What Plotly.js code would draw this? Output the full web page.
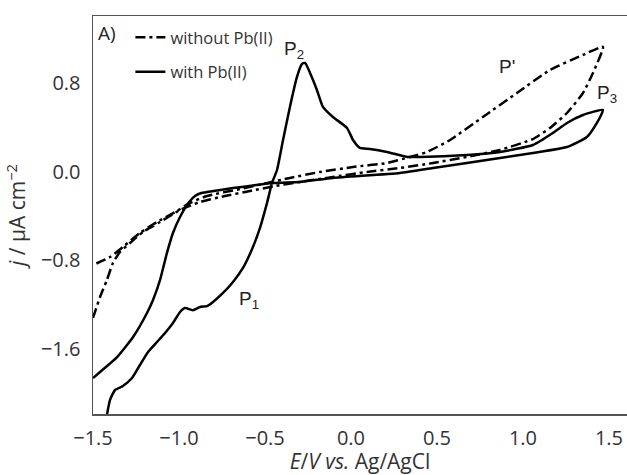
<!DOCTYPE html>
<html>
<head>
<meta charset="utf-8">
<script src="https://cdn.plot.ly/plotly-3.0.1.min.js"></script>
<style>html,body{margin:0;padding:0;background:#fff;}#chart{width:627px;height:475px;}</style>
</head>
<body>
<div id="chart"></div>
<script>
// With Pb(II) (solid) – one continuous CV loop
var withPbE = [-1.425,-1.401,-1.372,-1.326,-1.273,-1.227,-1.180,-1.128,-1.081,-1.035,-0.994,-0.965,-0.919,-0.878,-0.837,-0.802,-0.744,-0.686,-0.628,-0.570,-0.529,-0.488,-0.459,-0.430,-0.395,-0.355,-0.314,-0.285,-0.267,-0.238,-0.198,-0.163,-0.105,-0.023,0.012,0.052,0.110,0.209,0.326,0.401,0.674,0.866,1.058,1.174,1.256,1.349,1.465,1.430,1.372,1.256,1.058,0.866,0.674,0.477,0.285,-0.105,-0.297,-0.453,-0.686,-0.837,-0.870,-0.905,-0.940,-0.994,-1.035,-1.070,-1.110,-1.151,-1.186,-1.267,-1.360,-1.459,-1.500];
var withPbJ = [-2.25,-2.061,-1.971,-1.935,-1.863,-1.745,-1.627,-1.537,-1.456,-1.365,-1.266,-1.230,-1.250,-1.221,-1.212,-1.175,-1.094,-0.995,-0.868,-0.678,-0.506,-0.280,-0.099,0.018,0.289,0.588,0.859,0.976,0.986,0.895,0.741,0.588,0.497,0.398,0.289,0.217,0.208,0.181,0.136,0.136,0.154,0.181,0.244,0.353,0.443,0.515,0.561,0.443,0.316,0.226,0.172,0.127,0.081,0.036,-0.009,-0.054,-0.090,-0.099,-0.145,-0.181,-0.190,-0.215,-0.270,-0.407,-0.552,-0.732,-0.976,-1.157,-1.275,-1.492,-1.673,-1.808,-1.863];

// Without Pb(II) (dash-dot)
var withoutPbE = [-1.500,-1.459,-1.419,-1.384,-1.343,-1.285,-1.209,-1.110,-0.994,-0.878,-0.733,-0.587,-0.442,-0.297,-0.105,0.093,0.285,0.477,0.674,0.866,1.058,1.157,1.256,1.349,1.407,1.465,1.349,1.157,0.965,0.767,0.576,0.442,0.343,0.209,0.012,-0.180,-0.355,-0.512,-0.645,-0.837,-0.936,-1.012,-1.128,-1.227,-1.326,-1.401,-1.500];
var withoutPbJ = [-1.320,-1.130,-0.976,-0.823,-0.723,-0.642,-0.542,-0.452,-0.344,-0.271,-0.217,-0.172,-0.127,-0.090,-0.045,0.000,0.036,0.081,0.136,0.199,0.298,0.398,0.533,0.714,0.895,1.130,1.058,0.922,0.714,0.497,0.289,0.181,0.136,0.081,0.045,0.000,-0.054,-0.108,-0.154,-0.217,-0.280,-0.353,-0.452,-0.552,-0.678,-0.769,-0.841];

var xTicks = [-1.5,-1.0,-0.5,0.0,0.5,1.0,1.5];
var xTickText = ['\u22121.5','\u22121.0','\u22120.5','0.0','0.5','1.0','1.5'];
var yTicks = [-1.6,-0.8,0.0,0.8];
var yTickText = ['\u22121.6','\u22120.8','0.0','0.8'];

var FONT = 'Open Sans, Lato, sans-serif';

var traces = [
  {x: withoutPbE, y: withoutPbJ, mode: 'lines', name: 'without Pb(II)', legendgroup: 'a',
   line: {color: '#000', width: 2.5, dash: '10px,4px,3px,4px', shape: 'spline', smoothing: 0.5}},
  {x: withPbE, y: withPbJ, mode: 'lines', name: 'with Pb(II)', legendgroup: 'b',
   line: {color: '#000', width: 2.5, shape: 'spline', smoothing: 0.5}}
];

var annFont = {family: 'Liberation Sans, Arial, sans-serif', size: 19, color: '#222'};
var layout = {
  width: 627, height: 475,
  margin: {l: 93, r: 0, t: 16, b: 61},
  paper_bgcolor: '#fff', plot_bgcolor: '#fff',
  font: {family: FONT, color: '#333'},
  showlegend: true,
  legend: {x: 0.07, y: 0.99, xanchor: 'left', yanchor: 'top', bgcolor: 'rgba(0,0,0,0)',
           font: {family: FONT, size: 16.5, color: '#333'}, traceorder: 'grouped', tracegroupgap: 10},
  xaxis: {range: [-1.5, 1.605], tickvals: xTicks, ticktext: xTickText, showgrid: false, zeroline: false,
          showline: true, linecolor: '#555', linewidth: 1.5, mirror: true,
          ticks: 'outside', ticklen: 5, tickcolor: 'rgba(0,0,0,0)',
          tickfont: {family: FONT, size: 20, color: '#333'},
          title: {text: '<i>E</i>/<i>V vs.</i> Ag/AgCl', font: {family: FONT, size: 21, color: '#333'}, standoff: 0}},
  yaxis: {range: [-2.188, 1.41], tickvals: yTicks, ticktext: yTickText, showgrid: false, zeroline: false,
          showline: true, linecolor: '#555', linewidth: 1.5, mirror: false,
          ticks: 'outside', ticklen: 7, tickcolor: 'rgba(0,0,0,0)',
          tickfont: {family: FONT, size: 20, color: '#333'},
          title: {text: '<i>j</i> / \u03bcA cm<sup>\u22122</sup>', font: {family: FONT, size: 21, color: '#333'}, standoff: 9}},
  annotations: [
    {xref: 'paper', yref: 'paper', x: 0.005, y: 0.995, xanchor: 'left', yanchor: 'top', showarrow: false,
     text: 'A)', font: {family: FONT, size: 19, color: '#222'}},
    {xref: 'x', yref: 'y', x: -0.40, y: 0.98, xanchor: 'left', yanchor: 'bottom', showarrow: false,
     text: 'P<sub>2</sub>', font: annFont},
    {xref: 'x', yref: 'y', x: -0.665, y: -1.285, xanchor: 'left', yanchor: 'bottom', showarrow: false,
     text: 'P<sub>1</sub>', font: annFont},
    {xref: 'x', yref: 'y', x: 0.85, y: 0.84, xanchor: 'left', yanchor: 'bottom', showarrow: false,
     text: "P'", font: annFont},
    {xref: 'x', yref: 'y', x: 1.42, y: 0.58, xanchor: 'left', yanchor: 'bottom', showarrow: false,
     text: 'P<sub>3</sub>', font: annFont}
  ]
};

Plotly.newPlot('chart', traces, layout, {displayModeBar: false, staticPlot: true});
</script>
</body>
</html>
